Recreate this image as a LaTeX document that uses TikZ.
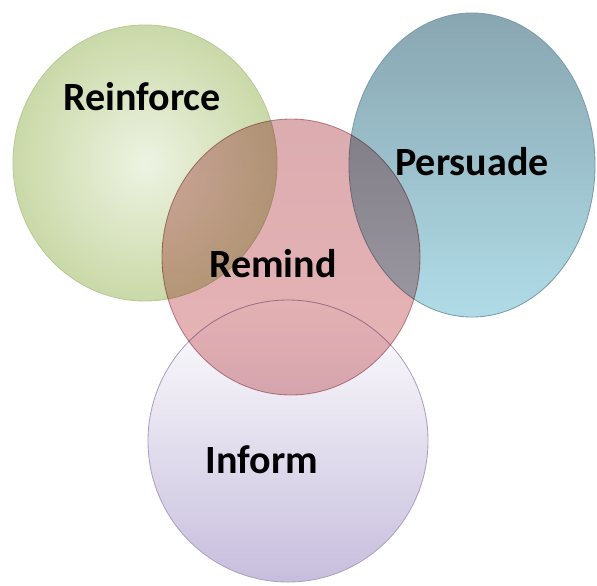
\documentclass[tikz,border=0pt]{standalone}
\usepackage{fontspec}
\setmainfont{Carlito}
\usepackage{tikz}
\usetikzlibrary{positioning}
\definecolor{grnIn}{HTML}{EDF3E2}
\definecolor{grnOut}{HTML}{CAD9A8}
\definecolor{grnEdge}{HTML}{B8C996}
\definecolor{bluTop}{HTML}{88A6B1}
\definecolor{bluBot}{HTML}{B0DCE7}
\definecolor{bluEdge}{HTML}{7C9CA8}
\definecolor{pnkTop}{HTML}{D9A6AA}
\definecolor{pnkBot}{HTML}{E6AEB0}
\definecolor{pnkEdge}{HTML}{C08C90}
\definecolor{lavMid}{HTML}{EAE6F2}
\definecolor{lavBot}{HTML}{C7BEDD}
\definecolor{lavEdge}{HTML}{ABA2C2}

\begin{document}
\begin{tikzpicture}[
    x=0.025cm, y=-0.025cm,
    bubble/.style={line width=0.6pt},
    word/.style={anchor=base, font=\fontsize{28.5}{33}\selectfont\bfseries, text=black}
]

% white page
\fill[white] (0,0) rectangle (597,585);
\useasboundingbox (0,0) rectangle (597,585);

% Reinforce
\shade[bubble, draw=grnEdge, inner color=grnIn, outer color=grnOut]
    (145,163) ellipse [x radius=132, y radius=138];

% Persuade
\shade[bubble, draw=bluEdge, top color=bluTop, bottom color=bluBot]
    (472,165) ellipse [x radius=123, y radius=152];

% Inform
\shade[bubble, draw=lavEdge, top color=white, middle color=lavMid, bottom color=lavBot]
    (288,441) ellipse [x radius=140, y radius=141];

% Remind, laid over the others
\begin{scope}[blend mode=multiply]
\shade[bubble, draw=pnkEdge, top color=pnkTop, bottom color=pnkBot, opacity=0.92]
    (291,257) ellipse [x radius=129, y radius=138];
\end{scope}

% labels
\node[word] (reinforce) at (142,110) {Reinforce};
\node[word] (persuade)  at (472,175) {Persuade};
\node[word] (remind)    at (273,277) {Remind};
\node[word] (inform)    at (262,473) {Inform};

\end{tikzpicture}
\end{document}
